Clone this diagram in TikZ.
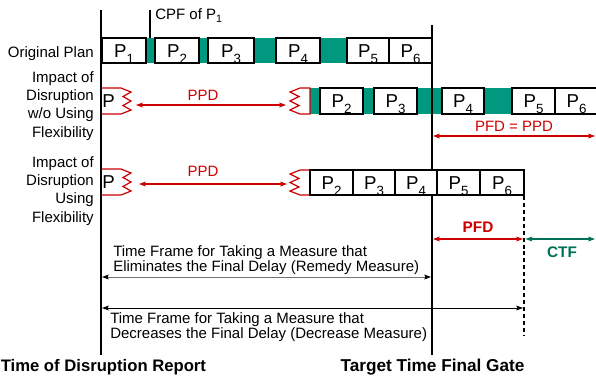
\documentclass[tikz,border=0pt]{standalone}
\usepackage{fontspec}
\setmainfont{Liberation Sans}
\usetikzlibrary{arrows.meta}
\definecolor{tgreen}{RGB}{0,153,128}
\definecolor{dred}{RGB}{204,0,0}
\definecolor{dgreen}{RGB}{0,112,84}
\newcommand\psub[1]{\smash{\raisebox{-4.5pt}{\fontsize{10}{10}\selectfont #1}}}
\begin{document}
\begin{tikzpicture}[x=0.75pt,y=-0.75pt,
  pbox/.style={draw=black, line width=1.5pt, fill=white, inner sep=0pt,
    font=\fontsize{14}{14}\selectfont, text height=10pt, text depth=0pt},
  rowa/.style={pbox, minimum height=18.75pt},
  rowb/.style={pbox, minimum height=19.5pt},
  frag/.style={draw=dred, line width=0.9pt, line join=miter},
  fragtxt/.style={inner sep=0pt, font=\fontsize{14}{14}\selectfont},
  lbl/.style={inner sep=0pt, font=\fontsize{11.25}{13}\selectfont},
  rlbl/.style={lbl, text=dred},
  vline/.style={draw=black, line width=1.5pt},
  redarrow/.style={draw=dred, line width=0.8pt, {Stealth[length=5pt,width=3.6pt,inset=0.8pt]}-{Stealth[length=5pt,width=3.6pt,inset=0.8pt]}},
  grnarrow/.style={draw=dgreen, line width=0.8pt, {Stealth[length=5pt,width=3.6pt,inset=0.8pt]}-{Stealth[length=5pt,width=3.6pt,inset=0.8pt]}},
  blkarrow/.style={draw=black, line width=0.7pt, {Stealth[length=5pt,width=3.6pt,inset=0.8pt,black]}-{Stealth[length=5pt,width=3.6pt,inset=0.8pt,black]}},
]
\useasboundingbox (0,0) rectangle (596,383);

% green gaps (float)
\fill[tgreen] (146,38) rectangle (347,63);
\fill[tgreen] (310,88) rectangle (560,114);

% vertical lines
\coordinate (LT) at (101,10);
\coordinate (LB) at (101,355);
\coordinate (RT) at (432,25);
\coordinate (RB) at (432,355);
\draw[vline] (LT) -- (LB);
\draw[vline] (RT) -- (RB);

% CPF tick
\coordinate (cpfT) at (150,10);
\coordinate (cpfB) at (150,38);
\draw[line width=1pt] (cpfT) -- (cpfB);
\node[lbl, anchor=base west] (cpf) at (155,19) {CPF of P{\fontsize{8}{8}\selectfont\raisebox{-2.5pt}{1}}};

% row labels
\node[lbl, anchor=base east] (lo) at (94,57) {Original Plan};
\node[lbl, anchor=base east] (la1) at (94,82) {Impact of};
\node[lbl, anchor=base east] (la2) at (94,100.3) {Disruption};
\node[lbl, anchor=base east] (la3) at (94,118.6) {w/o Using};
\node[lbl, anchor=base east] (la4) at (94,137) {Flexibility};
\node[lbl, anchor=base east] (lb1) at (94,167) {Impact of};
\node[lbl, anchor=base east] (lb2) at (94,185.5) {Disruption};
\node[lbl, anchor=base east] (lb3) at (94,203.7) {Using};
\node[lbl, anchor=base east] (lb4) at (94,222) {Flexibility};

% original plan
\node[rowa, minimum width=33pt]    (o1) at (124,50.5)   {P\psub{1}};
\node[rowa, minimum width=33pt]    (o2) at (177,50.5)   {P\psub{2}};
\node[rowa, minimum width=34.5pt]  (o3) at (231,50.5)   {P\psub{3}};
\node[rowa, minimum width=33pt]    (o4) at (298,50.5)   {P\psub{4}};
\node[rowa, minimum width=31.5pt]  (o5) at (368,50.5)   {P\psub{5}};
\node[rowa, minimum width=32.25pt] (o6) at (410.5,50.5) {P\psub{6}};

% row 2: without flexibility
\draw[frag] (102,88) -- (121,88) -- (131,92) -- (123,96.5) -- (131,101) -- (123,105.5) -- (131,110) -- (121,114) -- (102,114);
\node[fragtxt] (f2) at (108.5,101) {P};
\draw[frag] (310,88) -- (300,88) -- (290,92) -- (299,96.5) -- (290,101) -- (299,105.5) -- (290,110) -- (300,114) -- (310,114) -- cycle;
\node[rowb, minimum width=32.25pt] (b2) at (341.5,101) {P\psub{2}};
\node[rowb, minimum width=32.25pt] (b3) at (395.5,101) {P\psub{3}};
\node[rowb, minimum width=31.5pt]  (b4) at (463,101)   {P\psub{4}};
\node[rowb, minimum width=32.25pt] (b5) at (533.5,101) {P\psub{5}};
\node[rowb, minimum width=32.25pt] (b6) at (576.5,101) {P\psub{6}};
\coordinate (p2l) at (136,105);
\coordinate (p2r) at (286,105);
\draw[redarrow] (p2l) -- (p2r);
\node[rlbl, anchor=base] (ppd2) at (203,100) {PPD};
\coordinate (q2l) at (433,136);
\coordinate (q2r) at (595,136);
\draw[redarrow] (q2l) -- (q2r);
\node[rlbl, anchor=base] (pfdppd) at (514,131.7) {PFD = PPD};

% row 3: using flexibility
\draw[frag] (102,169) -- (121,169) -- (131,173) -- (123,177.5) -- (131,182) -- (123,186.5) -- (131,191) -- (121,195) -- (102,195);
\node[fragtxt] (f3) at (108.5,182) {P};
\draw[frag] (310,170) -- (300,170) -- (290,174) -- (299,178.5) -- (290,182.5) -- (299,187) -- (290,191) -- (300,195) -- (310,195) -- cycle;
\node[rowa, minimum width=32.25pt] (c2) at (331.5,182.5) {P\psub{2}};
\node[rowa, minimum width=31.5pt]  (c3) at (374,182.5)   {P\psub{3}};
\node[rowa, minimum width=31.5pt]  (c4) at (416,182.5)   {P\psub{4}};
\node[rowa, minimum width=32.25pt] (c5) at (458.5,182.5) {P\psub{5}};
\node[rowa, minimum width=33pt]    (c6) at (502,182.5)   {P\psub{6}};
\coordinate (p3l) at (139,184);
\coordinate (p3r) at (287,184);
\draw[redarrow] (p3l) -- (p3r);
\node[rlbl, anchor=base] (ppd3) at (203,176.8) {PPD};

% dashed end line
\coordinate (dT) at (524,196);
\coordinate (dB) at (524,335);
\draw[draw=black, line width=0.8pt, dash pattern=on 3pt off 2.2pt] (dT) -- (dB);

% PFD / CTF
\coordinate (pfl) at (433,239);
\coordinate (pfr) at (523,239);
\draw[redarrow] (pfl) -- (pfr);
\node[rlbl, anchor=base, font=\fontsize{11.5}{13}\selectfont\bfseries] (pfd) at (478,232) {PFD};
\coordinate (ctl) at (525.5,239);
\coordinate (ctr) at (595,239);
\draw[grnarrow] (ctl) -- (ctr);
\node[lbl, anchor=base, text=dgreen, font=\fontsize{11.5}{13}\selectfont\bfseries] (ctf) at (562,257) {CTF};

% time frames
\node[lbl, anchor=base west] (t1a) at (113,256.8) {Time Frame for Taking a Measure that};
\node[lbl, anchor=base west] (t1b) at (113,271.8) {Eliminates the Final Delay (Remedy Measure)};
\coordinate (r1l) at (102,277);
\coordinate (r1r) at (431,277);
\draw[blkarrow, draw=black!55] (r1l) -- (r1r);
\coordinate (r2l) at (102,308);
\coordinate (r2r) at (523,308);
\draw[blkarrow] (r2l) -- (r2r);
\node[lbl, anchor=base west] (t2a) at (110,323.5) {Time Frame for Taking a Measure that};
\node[lbl, anchor=base west] (t2b) at (110,338.4) {Decreases the Final Delay (Decrease Measure)};

% bottom labels
\node[inner sep=0pt, anchor=base west, font=\fontsize{12.5}{14}\selectfont\bfseries] (tdr) at (0.5,371.7) {Time of Disruption Report};
\node[inner sep=0pt, anchor=base, font=\fontsize{12.9}{14}\selectfont\bfseries] (ttg) at (432.5,371.7) {Target Time Final Gate};
\end{tikzpicture}
\end{document}
